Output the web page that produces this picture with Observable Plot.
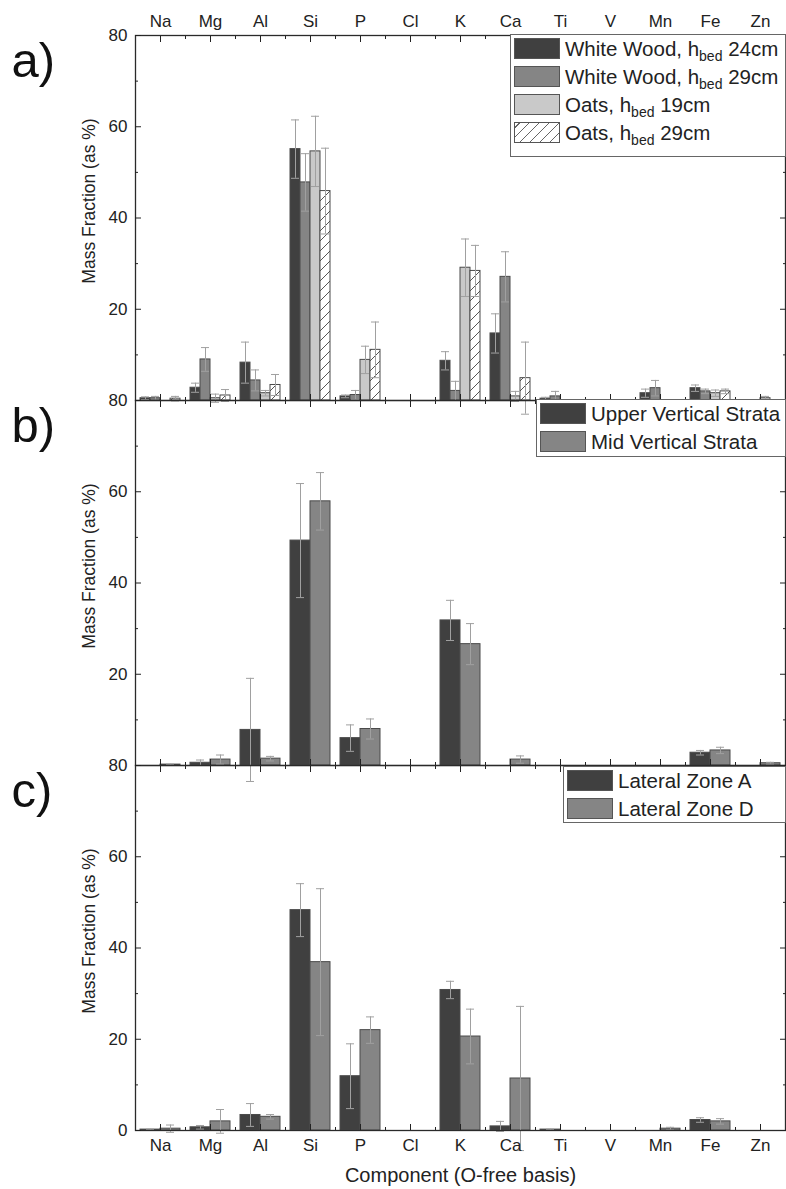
<!DOCTYPE html>
<html><head><meta charset="utf-8">
<script src="https://cdn.jsdelivr.net/npm/d3@7"></script>
<script src="https://cdn.jsdelivr.net/npm/@observablehq/plot@0.6"></script>
<style>
body{margin:0;background:#fff;}
#wrap{position:relative;width:786px;height:1189px;font-family:"Liberation Sans",Arial,sans-serif;}
.leg{position:absolute;border:1px solid #666;background:#fff;box-sizing:border-box;}
.row{position:absolute;left:3px;display:flex;align-items:center;font-size:20.5px;color:#222;white-space:nowrap;height:21px;}
.sw{width:46px;height:21px;border:1px solid #555;box-sizing:border-box;margin-right:5px;flex:none;}
.row sub{font-size:14px;vertical-align:-5px;line-height:0;}
</style></head><body><div id="wrap"></div>
<script>
// ---- data ----
const elements = ["Na","Mg","Al","Si","P","Cl","K","Ca","Ti","V","Mn","Fe","Zn"];
const panelIds = ["a","b","c"];

// panel a
const seriesA = ["White Wood, h<sub>bed</sub> 24cm","White Wood, h<sub>bed</sub> 29cm","Oats, h<sub>bed</sub> 19cm","Oats, h<sub>bed</sub> 29cm"];
const ww24     = [0.5, 2.8, 8.3, 55.1, 0.9, null, 8.7, 14.7, 0.4, null, 1.6, 2.7, null];
const ww24Err  = [0.3, 1.0, 4.5, 6.4, 0.3, null, 2.0, 4.3, 0.3, null, 0.9, 0.7, null];
const ww29     = [0.5, 9.0, 4.4, 47.8, 1.2, null, 2.1, 27.1, 0.9, null, 2.7, 2.0, null];
const ww29Err  = [0.4, 2.6, 2.3, 6.3, 1.0, null, 2.1, 5.5, 1.1, null, 1.7, 0.5, null];
const oats19   = [null, 0.5, 1.6, 54.6, 8.9, null, 29.1, 0.9, null, null, 0.1, 1.6, 0.5];
const oats19Err= [null, 0.9, 0.6, 7.7, 3.0, null, 6.3, 1.1, null, null, 0.1, 0.7, 0.4];
const oats29   = [0.4, 1.1, 3.4, 45.9, 11.1, null, 28.4, 4.9, null, null, 0.1, 2.0, null];
const oats29Err= [0.5, 1.3, 2.3, 9.4, 6.1, null, 5.6, 7.9, null, null, 0.1, 0.5, null];

// panel b
const seriesB = ["Upper Vertical Strata","Mid Vertical Strata"];
const upper    = [null, 0.6, 7.8, 49.3, 6.0, null, 31.8, null, null, null, null, 2.8, null];
const upperErr = [null, 0.6, 11.3, 12.5, 2.9, null, 4.4, null, null, null, null, 0.5, null];
const mid      = [0.2, 1.3, 1.5, 57.9, 8.0, null, 26.6, 1.3, null, null, null, 3.3, 0.5];
const midErr   = [0.1, 1.0, 0.5, 6.3, 2.2, null, 4.5, 0.8, null, null, null, 0.7, 0.2];

// panel c
const seriesC = ["Lateral Zone A","Lateral Zone D"];
const zoneA    = [0.2, 0.7, 3.4, 48.3, 11.9, null, 30.8, 0.9, 0.2, null, null, 2.3, null];
const zoneAErr = [0.1, 0.4, 2.5, 5.8, 7.1, null, 1.9, 1.1, 0.1, null, null, 0.5, null];
const zoneD    = [0.4, 2.0, 3.0, 36.9, 22.0, null, 20.6, 11.4, null, null, 0.4, 2.0, null];
const zoneDErr = [0.8, 2.6, 0.5, 16.1, 2.9, null, 6.0, 15.8, null, null, 0.3, 0.6, null];

const yMajor = [0,20,40,60,80];
const yMinor = [10,30,50,70];

// ---- styles ----
const DARK = "#404040", MID = "#858585", LIGHT = "#c9c9c9", HATCH = "url(#hatch)";
const panelDefs = [
  {id:"a", names:seriesA, vals:[ww24,ww29,oats19,oats29], errs:[ww24Err,ww29Err,oats19Err,oats29Err], fills:[DARK,MID,LIGHT,HATCH]},
  {id:"b", names:seriesB, vals:[upper,mid], errs:[upperErr,midErr], fills:[DARK,MID]},
  {id:"c", names:seriesC, vals:[zoneA,zoneD], errs:[zoneAErr,zoneDErr], fills:[DARK,MID]}
];

const GW = 0.8; // group width in band units
const rows = [];
for (const p of panelDefs) {
  const n = p.vals.length;
  p.vals.forEach((arr, j) => arr.forEach((v, i) => {
    if (v != null) rows.push({panel:p.id, j, n, i, v, e:p.errs[j][i], fill:p.fills[j]});
  }));
}
const bx1 = d => d.i - GW/2 + d.j*GW/d.n;
const bx2 = d => d.i - GW/2 + (d.j+1)*GW/d.n;
const bxc = d => d.i - GW/2 + (d.j+0.5)*GW/d.n;
const CAP = 0.08;
const errRows = rows.filter(d => d.e != null && d.e > 0);

const barMarks = [];
for (const p of panelDefs) p.fills.forEach((f, j) => {
  barMarks.push(Plot.rect(rows.filter(d => d.panel === p.id && d.j === j), {
    x1: bx1, x2: bx2, y1: () => 0, y2: "v", fy: "panel", fill: f, stroke: "#4a4a4a", strokeWidth: 1
  }));
});

const idx = d3.range(elements.length);
const between = d3.range(elements.length - 1).map(i => i + 0.5);
const noText = () => "";
const TF = 17;

const svg = Plot.plot({
  width: 786, height: 1189,
  marginLeft: 135, marginRight: 1, marginTop: 34, marginBottom: 59,
  facet: {marginTop: 0, marginBottom: 0, marginLeft: 0, marginRight: 0},
  style: {fontFamily: "'Liberation Sans', Arial, sans-serif", fontSize: "17px", color: "#222", background: "white", overflow: "visible"},
  x: {domain: [-0.5, 12.5], label: null},
  y: {domain: [0, 80], label: null},
  fy: {domain: panelIds, axis: null, padding: 0, label: null},
  marks: [
    ...barMarks,
    Plot.ruleX(errRows, {x: bxc, y1: d => d.v - d.e, y2: d => d.v + d.e, fy: "panel", stroke: "#a0a0a0", strokeWidth: 1}),
    Plot.ruleY(errRows, {y: d => d.v + d.e, x1: d => bxc(d) - CAP, x2: d => bxc(d) + CAP, fy: "panel", stroke: "#a0a0a0", strokeWidth: 1}),
    Plot.ruleY(errRows, {y: d => d.v - d.e, x1: d => bxc(d) - CAP, x2: d => bxc(d) + CAP, fy: "panel", stroke: "#a0a0a0", strokeWidth: 1}),
    Plot.frame({stroke: "#2a2a2a", strokeWidth: 1.3}),
    // x labels
    Plot.axisX(idx, {anchor: "top", tickSize: 0, tickPadding: 9, tickFormat: i => elements[i], fontSize: TF, label: null}),
    Plot.axisX(idx, {anchor: "bottom", tickSize: 0, tickPadding: 8, tickFormat: i => elements[i], fontSize: TF, label: null}),
    // inward x ticks on every panel
    Plot.axisX(idx, {anchor: "top", tickSize: 6, dy: 6, tickFormat: noText, facetAnchor: null, label: null}),
    Plot.axisX(between, {anchor: "top", tickSize: 3, dy: 3, tickFormat: noText, facetAnchor: null, label: null}),
    Plot.axisX(idx, {anchor: "bottom", tickSize: 6, dy: -6, tickFormat: noText, facetAnchor: null, label: null}),
    Plot.axisX(between, {anchor: "bottom", tickSize: 3, dy: -3, tickFormat: noText, facetAnchor: null, label: null}),
    // y labels
    Plot.axisY([20,40,60,80], {anchor: "left", tickSize: 0, tickPadding: 8, fontSize: TF, label: null}),
    Plot.axisY([0], {anchor: "left", tickSize: 0, tickPadding: 8, fontSize: TF, label: null, facetAnchor: "bottom"}),
    // inward y ticks
    Plot.axisY(yMajor, {anchor: "left", tickSize: 6, dx: 6, tickFormat: noText, label: null}),
    Plot.axisY(yMinor, {anchor: "left", tickSize: 3, dx: 3, tickFormat: noText, label: null}),
    Plot.axisY(yMajor, {anchor: "right", tickSize: 6, dx: -6, tickFormat: noText, label: null}),
    Plot.axisY(yMinor, {anchor: "right", tickSize: 3, dx: -3, tickFormat: noText, label: null}),
    // panel letters and y titles
    Plot.text(panelIds, {fy: d => d, text: d => d + ")", frameAnchor: "top-left", textAnchor: "start", lineAnchor: "middle", dx: -124, dy: 26, fontSize: 49, fill: "#111"}),
    Plot.text(panelIds, {fy: d => d, text: () => "Mass Fraction (as %)", frameAnchor: "left", textAnchor: "middle", rotate: -90, dx: -46, dy: -17, fontSize: 17.5, fill: "#222"}),
    Plot.text(["c"], {fy: d => d, text: () => "Component (O-free basis)", frameAnchor: "bottom", textAnchor: "middle", lineAnchor: "middle", dy: 45, fontSize: 20, fill: "#222"})
  ]
});

// hatch pattern
const ns = "http://www.w3.org/2000/svg";
const defs = document.createElementNS(ns, "defs");
defs.innerHTML = '<pattern id="hatch" patternUnits="userSpaceOnUse" width="10" height="10">' +
  '<rect width="10" height="10" fill="#fff"/>' +
  '<path d="M-1,1 L1,-1 M0,10 L10,0 M9,11 L11,9" stroke="#555" stroke-width="1"/></pattern>';
svg.insertBefore(defs, svg.firstChild);

const wrap = document.getElementById("wrap");
wrap.appendChild(svg);

// legends (HTML overlay)
const legendBoxes = [
  {names: seriesA, fills: [DARK, MID, LIGHT, HATCH], left: 510, top: 34, width: 276, height: 123},
  {names: seriesB, fills: [DARK, MID], left: 536, top: 399, width: 250, height: 58},
  {names: seriesC, fills: [DARK, MID], left: 563, top: 766, width: 223, height: 57}
];
for (const L of legendBoxes) {
  const box = document.createElement("div");
  box.className = "leg";
  Object.assign(box.style, {left: L.left + "px", top: L.top + "px", width: L.width + "px", height: L.height + "px"});
  L.names.forEach((nm, k) => {
    const r = document.createElement("div");
    r.className = "row";
    r.style.top = (3 + k * 28) + "px";
    const sw = document.createElement("div");
    sw.className = "sw";
    const f = L.fills[k];
    sw.style.background = f === HATCH ? "repeating-linear-gradient(-45deg,#fff 0 6px,#666 6px 7px)" : f;
    const t = document.createElement("span");
    t.innerHTML = nm;
    r.appendChild(sw); r.appendChild(t);
    box.appendChild(r);
  });
  wrap.appendChild(box);
}
</script>
</body></html>
